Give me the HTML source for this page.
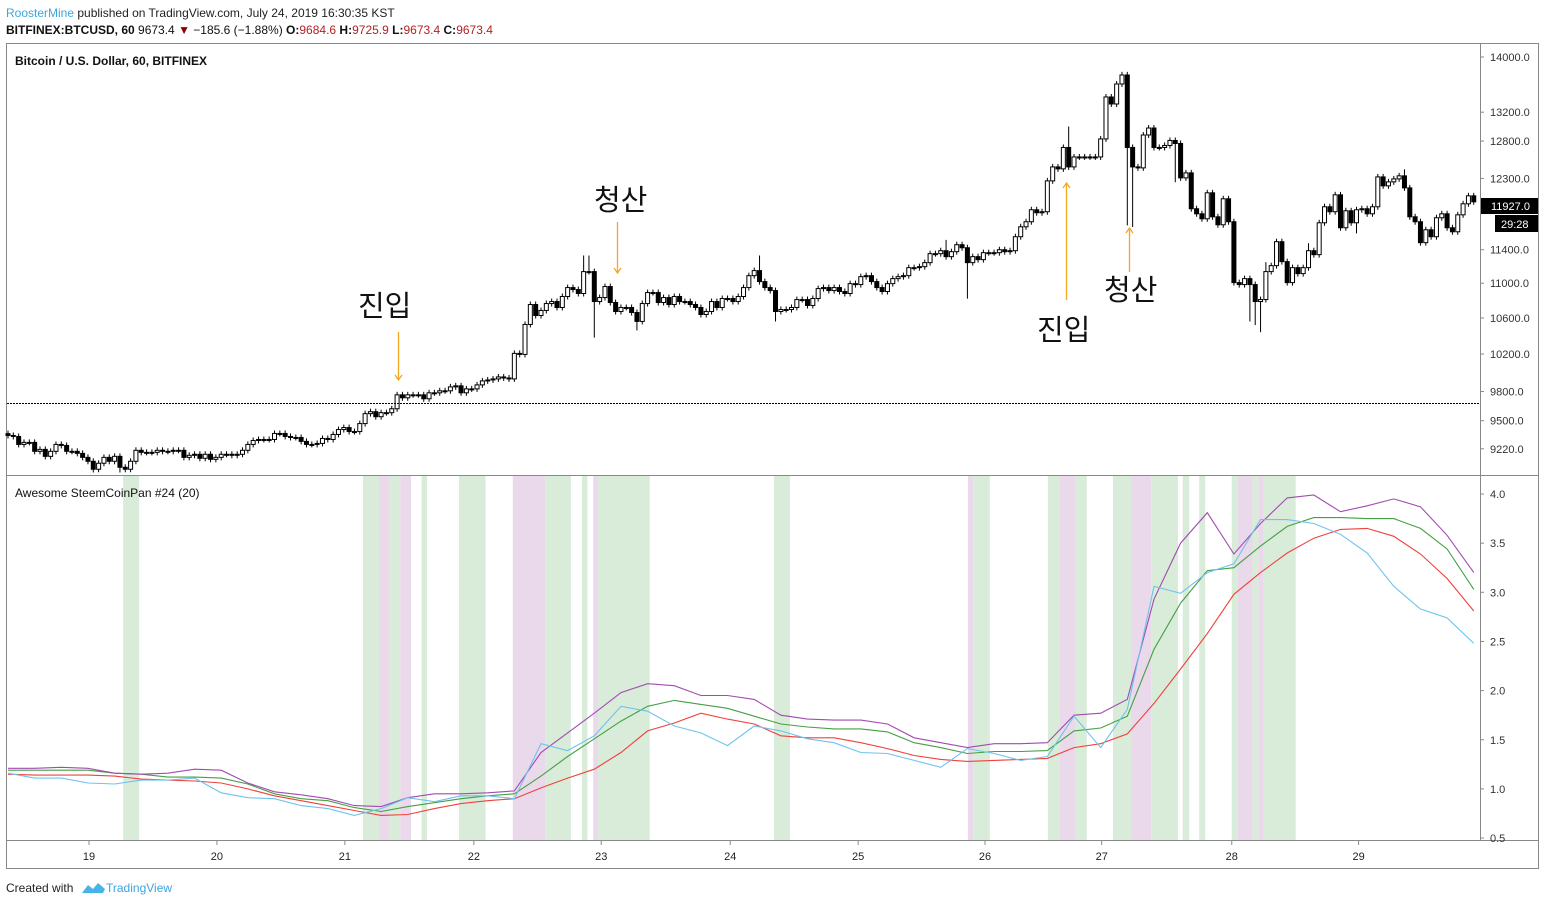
<!DOCTYPE html>
<html><head><meta charset="utf-8"><style>
body{margin:0;background:#fff;width:1545px;height:905px;overflow:hidden;font-family:"Liberation Sans","Noto Sans CJK KR",sans-serif;}
svg text{font-family:"Liberation Sans","Noto Sans CJK KR",sans-serif;}
</style></head><body>
<svg id="chart" width="1545" height="905" xmlns="http://www.w3.org/2000/svg">
<text x="6" y="17" font-size="12" fill="#222"><tspan fill="#3ba6e0">RoosterMine</tspan> published on TradingView.com, July 24, 2019 16:30:35 KST</text>
<text x="6" y="34" font-size="12" fill="#111"><tspan font-weight="bold">BITFINEX:BTCUSD, 60</tspan> 9673.4 <tspan fill="#8b0000">▼</tspan> −185.6 (−1.88%) <tspan font-weight="bold">O:</tspan><tspan fill="#b22222">9684.6</tspan> <tspan font-weight="bold">H:</tspan><tspan fill="#b22222">9725.9</tspan> <tspan font-weight="bold">L:</tspan><tspan fill="#b22222">9673.4</tspan> <tspan font-weight="bold">C:</tspan><tspan fill="#b22222">9673.4</tspan></text>
<rect x="6.5" y="43.5" width="1532" height="825" fill="none" stroke="#888"/>
<line x1="1480.5" y1="43" x2="1480.5" y2="840" stroke="#888"/>
<line x1="6" y1="475.5" x2="1538" y2="475.5" stroke="#888"/>
<line x1="6" y1="840.5" x2="1538" y2="840.5" stroke="#888"/>
<g id="bands"></g>
<g id="ind"></g>
<g id="candles"></g>
<g id="axes"></g>
<line x1="7" y1="403.5" x2="1480" y2="403.5" stroke="#000" stroke-dasharray="2,1"/>
<text x="15" y="65" font-size="12" font-weight="bold" fill="#111">Bitcoin / U.S. Dollar, 60, BITFINEX</text>
<text x="15" y="497" font-size="12" fill="#111">Awesome SteemCoinPan #24 (20)</text>
<g fill="#111" font-size="29">
<text x="358" y="316">진입</text>
<text x="594" y="210">청산</text>
<text x="1037" y="340">진입</text>
<text x="1104" y="300">청산</text>
</g>
<g stroke="#f5a623" stroke-width="1.3" fill="none">
<path d="M398.5 332V380M395 375l3.5 5 3.5-5"/>
<path d="M617.5 222V273M614 268l3.5 5 3.5-5"/>
<path d="M1066.5 300V183M1063 188l3.5-5 3.5 5"/>
<path d="M1129.5 272V228M1126 233l3.5-5 3.5 5"/>
</g>
<rect x="1481" y="198" width="57" height="16" fill="#000"/>
<text x="1491" y="210" font-size="11" fill="#fff">11927.0</text>
<rect x="1495" y="215" width="43" height="17" fill="#000"/>
<text x="1501" y="228" font-size="11" fill="#fff">29:28</text>
<text x="6" y="892" font-size="12" fill="#222">Created with</text>
<path d="M82 893l6-8 5 4 5-6 7 6-2 4h-21z" fill="#45b5e8"/>
<text x="106" y="892" font-size="12" fill="#3ba6e0">TradingView</text>
</svg>
<script>
const closes=[9352,9342,9263,9283,9283,9195,9214,9146,9195,9263,9253,9195,9195,9175,9136,9098,9021,9079,9136,9098,9146,9040,9021,9098,9205,9185,9185,9185,9205,9195,9195,9205,9205,9136,9156,9166,9127,9166,9117,9136,9166,9166,9156,9166,9205,9263,9302,9312,9312,9312,9372,9372,9342,9332,9332,9293,9263,9263,9273,9322,9312,9362,9411,9431,9391,9391,9471,9572,9592,9541,9582,9582,9622,9766,9735,9766,9766,9766,9725,9787,9787,9808,9808,9849,9860,9787,9828,9828,9870,9912,9922,9933,9954,9943,9933,10207,10196,10527,10753,10628,10685,10764,10787,10719,10845,10949,10926,10880,11137,11137,10787,10833,10961,10776,10673,10719,10719,10662,10561,10764,10891,10891,10776,10833,10753,10845,10787,10787,10753,10719,10639,10673,10787,10719,10822,10822,10787,10845,10949,11089,11149,11019,10949,10914,10673,10696,10696,10719,10810,10810,10742,10822,10937,10949,10914,10949,10903,10880,10995,10984,11077,11089,11019,10949,10903,10995,11054,11077,11089,11184,11184,11196,11244,11352,11352,11388,11316,11376,11461,11424,11244,11316,11280,11364,11364,11364,11400,11376,11388,11559,11682,11745,11896,11858,11871,12268,12452,12426,12713,12452,12585,12585,12585,12585,12585,12829,13416,13316,13603,13734,12713,12452,12439,12883,12979,12713,12713,12740,12808,12767,12307,12373,11909,11845,11782,12113,11807,11707,12036,11745,11007,10984,11054,10984,10787,10810,11137,11208,11498,11256,11007,11184,11113,11184,11388,11340,11732,11934,11871,12087,11670,11883,11732,11896,11909,11845,11934,12320,12203,12255,12294,12334,12177,11807,11745,11486,11645,11559,11795,11845,11670,11620,11832,11972,12074,11997];
const firstOpen=9370;
const lowSpikeBars=[16,21,110,118,144,180,210,211,219,233,234,235,251,253];
const lowSpikeVals=[8990,8990,10380,10460,10560,10820,11700,11680,12250,10560,10520,10440,11750,11600];
const highSpikeBars=[108,109,141,176,199,209,210,236,244,262];
const highSpikeVals=[11330,11330,11330,11520,13000,13780,13780,11250,11480,12420];
const priceTicks=[14000,13200,12800,12300,11400,11000,10600,10200,9800,9500,9220];
const dayLabels=["19","20","21","22","23","24","25","26","27","28","29"];
const dayBars=[15.2,39.2,63.2,87.4,111.3,135.5,159.5,183.3,205.2,229.6,253.4];
const indTicks=[4.0,3.5,3.0,2.5,2.0,1.5,1.0,0.5];
const sampleStep=5;
const purple=[1.21,1.21,1.22,1.21,1.16,1.15,1.16,1.20,1.19,1.06,0.97,0.94,0.90,0.83,0.82,0.91,0.95,0.95,0.96,0.98,1.37,1.57,1.77,1.98,2.07,2.05,1.95,1.95,1.91,1.75,1.71,1.70,1.70,1.66,1.52,1.47,1.42,1.46,1.46,1.47,1.75,1.77,1.91,2.93,3.50,3.81,3.39,3.70,3.96,3.99,3.82,3.88,3.95,3.87,3.58,3.20];
const green=[1.19,1.19,1.19,1.19,1.16,1.15,1.12,1.12,1.11,1.05,0.95,0.90,0.88,0.81,0.77,0.82,0.86,0.90,0.93,0.95,1.13,1.33,1.51,1.69,1.84,1.90,1.86,1.82,1.74,1.66,1.63,1.61,1.61,1.58,1.47,1.42,1.36,1.38,1.38,1.39,1.59,1.62,1.74,2.42,2.89,3.22,3.25,3.47,3.67,3.76,3.76,3.75,3.75,3.65,3.44,3.03];
const red=[1.15,1.14,1.14,1.14,1.13,1.10,1.09,1.08,1.06,1.00,0.93,0.88,0.83,0.78,0.73,0.74,0.80,0.85,0.88,0.90,1.01,1.11,1.20,1.37,1.59,1.67,1.77,1.71,1.66,1.54,1.52,1.52,1.47,1.41,1.34,1.30,1.28,1.29,1.30,1.31,1.42,1.46,1.56,1.87,2.22,2.58,2.98,3.20,3.40,3.55,3.64,3.65,3.57,3.39,3.14,2.81];
const blue=[1.16,1.11,1.11,1.06,1.05,1.09,1.09,1.11,0.96,0.91,0.90,0.83,0.80,0.73,0.80,0.91,0.87,0.93,0.93,0.90,1.46,1.39,1.54,1.84,1.79,1.64,1.57,1.44,1.64,1.59,1.51,1.47,1.37,1.36,1.29,1.22,1.41,1.36,1.29,1.33,1.74,1.42,1.81,3.06,2.99,3.20,3.29,3.74,3.74,3.70,3.59,3.40,3.06,2.83,2.74,2.48];
const bandStart=[21.6,66.6,69.6,71.6,73.6,77.6,84.6,94.7,100.8,107.7,109.8,110.7,143.7,180.1,181.1,195.1,197.3,200.3,207.3,210.7,214.5,220.4,223.5,229.6,230.7,233.5,234.6,235.6];
const bandEnd=[24.6,69.6,71.6,73.6,75.6,78.6,89.6,100.8,105.6,108.7,110.7,120.4,146.7,181.1,184.2,197.3,200.3,202.4,210.7,214.5,219.5,221.6,224.6,230.7,233.5,234.6,235.6,241.6];
const bandType=["g","g","p","g","p","g","g","p","g","g","p","g","g","p","g","g","p","g","g","p","g","g","g","g","p","g","p","g"];
</script>
<script>
const NS="http://www.w3.org/2000/svg";
const X0=8,BW=5.33;
function xOf(i){return X0+i*BW;}
function yPrice(p){return 57+938*Math.log(14000/p);}
function yInd(v){return 494+(4-v)*98.3;}
function mk(tag,attrs,parent){const e=document.createElementNS(NS,tag);for(const k in attrs)e.setAttribute(k,attrs[k]);parent.appendChild(e);return e;}
const gB=document.getElementById('bands'),gI=document.getElementById('ind'),gC=document.getElementById('candles'),gA=document.getElementById('axes');
for(let k=0;k<bandStart.length;k++){
 const x1=xOf(bandStart[k]),x2=xOf(bandEnd[k]);
 const r=mk('rect',{x:x1,y:476,width:x2-x1,height:364,fill:bandType[k]==='g'?'#d9ebd9':'#ead9ea'},gB);
 
 
}
function line(arr,color,name){
 let d='';arr.forEach((v,k)=>{d+=(k?'L':'M')+xOf(k*sampleStep).toFixed(1)+' '+yInd(v).toFixed(1);});
 const p=mk('path',{d:d,stroke:color,'stroke-width':1.1,fill:'none'},gI);
 
 
}
line(red,'#f0413c','red-line');line(green,'#45a045','green-line');line(purple,'#a24bb0','purple-line');line(blue,'#6ec3ee','blue-line');
for(let i=0;i<closes.length;i++){
 const o=i?closes[i-1]:firstOpen,c=closes[i];
 const x=xOf(i);
 let hi=Math.max(o,c),lo=Math.min(o,c);
 let yh=yPrice(hi)-3,yl=yPrice(lo)+3;
 const hk=highSpikeBars.indexOf(i);if(hk>=0)yh=Math.min(yh,yPrice(highSpikeVals[hk]));
 const lk=lowSpikeBars.indexOf(i);if(lk>=0)yl=Math.max(yl,yPrice(lowSpikeVals[lk]));
 const w=mk('line',{x1:x,y1:yh,x2:x,y2:yl,stroke:'#000','stroke-width':1},gC);
 
 
 const yt=yPrice(hi),yb=yPrice(lo);
 const b=mk('rect',{x:x-2,y:yt,width:4,height:Math.max(yb-yt,1),fill:c>=o?'#fff':'#000',stroke:'#000','stroke-width':1},gC);
 
 
}
priceTicks.forEach(p=>{const y=yPrice(p);
 mk('line',{x1:1480,y1:y,x2:1484,y2:y,stroke:'#888'},gA);
 const t=mk('text',{x:1490,y:y+4,'font-size':11,fill:'#333'},gA);t.textContent=p.toFixed(1);
 
 
});
indTicks.forEach(v=>{const y=yInd(v);
 mk('line',{x1:1480,y1:y,x2:1484,y2:y,stroke:'#888'},gA);
 const t=mk('text',{x:1490,y:y+4,'font-size':11,fill:'#333'},gA);t.textContent=v.toFixed(1);
 
 
});
dayLabels.forEach((d,k)=>{const x=xOf(dayBars[k]);
 mk('line',{x1:x,y1:840,x2:x,y2:845,stroke:'#888'},gA);
 const t=mk('text',{x:x,y:860,'font-size':11,fill:'#222','text-anchor':'middle'},gA);t.textContent=d;
 
 
});
</script>
</body></html>
